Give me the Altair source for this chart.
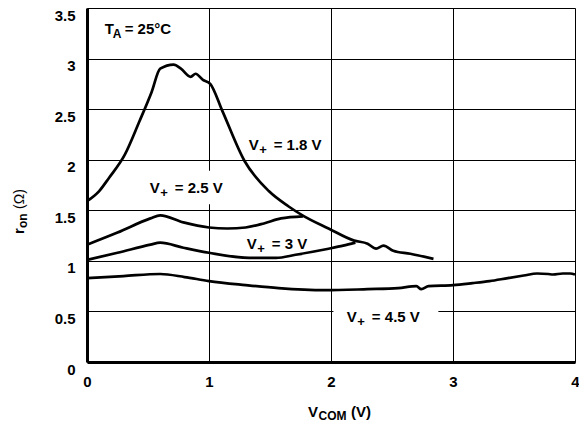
import altair as alt
import pandas as pd

# ---- data ----
x_18 = [0.00, 0.10, 0.18, 0.31, 0.43, 0.53, 0.60, 0.71, 0.77, 0.85, 0.89, 0.95, 1.01,
        1.11, 1.29, 1.49, 1.65, 1.78, 1.98, 2.19, 2.30, 2.37, 2.43, 2.51, 2.65, 2.84]
y_18 = [1.59, 1.69, 1.82, 2.05, 2.38, 2.67, 2.90, 2.94, 2.90, 2.82, 2.85, 2.79, 2.75,
        2.48, 1.99, 1.69, 1.54, 1.44, 1.32, 1.20, 1.17, 1.12, 1.15, 1.10, 1.07, 1.02]

x_25 = [0.00, 0.25, 0.52, 0.60, 0.79, 1.00, 1.15, 1.30, 1.45, 1.59, 1.77]
y_25 = [1.16, 1.28, 1.42, 1.45, 1.38, 1.33, 1.32, 1.33, 1.37, 1.42, 1.44]

x_3 = [0.00, 0.25, 0.52, 0.60, 0.79, 1.00, 1.33, 1.55, 1.71, 1.85, 1.98, 2.10, 2.20]
y_3 = [1.01, 1.08, 1.16, 1.18, 1.13, 1.08, 1.03, 1.03, 1.06, 1.09, 1.12, 1.15, 1.18]

x_45 = [0.00, 0.30, 0.60, 0.80, 1.00, 1.30, 1.57, 1.95, 2.30, 2.55, 2.70, 2.74, 2.80,
        3.00, 3.16, 3.30, 3.45, 3.58, 3.69, 3.78, 3.82, 3.90, 3.96, 4.00]
y_45 = [0.83, 0.85, 0.87, 0.84, 0.80, 0.76, 0.73, 0.71, 0.72, 0.73, 0.75, 0.72, 0.75,
        0.76, 0.78, 0.80, 0.83, 0.855, 0.875, 0.87, 0.865, 0.875, 0.875, 0.865]

series_names = ["1.8 V", "2.5 V", "3 V", "4.5 V"]
series_x = [x_18, x_25, x_3, x_45]
series_y = [y_18, y_25, y_3, y_45]

x_ticks = [0, 1, 2, 3, 4]
y_ticks = [0, 0.5, 1, 1.5, 2, 2.5, 3, 3.5]

# curve labels (anchor in data units)
label_rest = ["= 1.8 V", "= 2.5 V", "= 3 V", "= 4.5 V"]
label_x = [1.325, 0.514, 1.31, 2.13]
label_y = [2.15, 1.72, 1.17, 0.44]

# white boxes behind two labels (they interrupt the grid)
box_x = [0.47, 2.02]
box_x2 = [1.16, 2.88]
box_y = [1.56, 0.31]
box_y2 = [1.89, 0.61]

rows = []
for name, xs_, ys_ in zip(series_names, series_x, series_y):
    for i, (a, b) in enumerate(zip(xs_, ys_)):
        rows.append({"series": name, "order": i, "vcom": a, "ron": b})
df = pd.DataFrame(rows)

lab = pd.DataFrame({"vcom": label_x, "ron": label_y, "main": "V", "sub": "+", "rest": label_rest})
boxes = pd.DataFrame({"vcom": box_x, "vcom2": box_x2, "ron": box_y, "ron2": box_y2})
ta = pd.DataFrame({"vcom": [0.145], "ron": [3.29]})
dummy = pd.DataFrame({"a": [0]})

FONT = "Liberation Sans"

xs = alt.Scale(domain=[0, 4], nice=False)
ys = alt.Scale(domain=[0, 3.5], nice=False)

X = alt.X("vcom:Q", scale=xs, axis=alt.Axis(
    values=x_ticks, format="d", title=None, grid=True, ticks=False, labelPadding=12,
    labelFont=FONT, labelFontSize=15, labelFontWeight="bold", labelColor="black",
    domainColor="black", domainWidth=3, gridColor="black", gridWidth=1, gridOpacity=1,
    labelFlush=False))
Y = alt.Y("ron:Q", scale=ys, axis=alt.Axis(
    values=y_ticks, format=".1~f", title=None, grid=True, ticks=False, labelPadding=12,
    labelFont=FONT, labelFontSize=15, labelFontWeight="bold", labelColor="black",
    labelBaseline="top", labelFlush=False,
    domainColor="black", domainWidth=3, gridColor="black", gridWidth=1, gridOpacity=1))

lines = alt.Chart(df).mark_line(color="black", strokeWidth=2.7, interpolate="monotone").encode(
    x=X, y=Y, detail="series:N", order="order:Q")

rects = alt.Chart(boxes).mark_rect(color="white").encode(
    x="vcom:Q", x2="vcom2:Q", y="ron:Q", y2="ron2:Q")

base_txt = dict(font=FONT, fontWeight="bold", color="black", align="left", baseline="alphabetic")
lab_main = alt.Chart(lab).mark_text(fontSize=15, dy=5, **base_txt).encode(
    x="vcom:Q", y="ron:Q", text="main:N")
lab_sub = alt.Chart(lab).mark_text(fontSize=13, dx=10.5, dy=9, **base_txt).encode(
    x="vcom:Q", y="ron:Q", text="sub:N")
lab_rest = alt.Chart(lab).mark_text(fontSize=15, dx=25, dy=5, **base_txt).encode(
    x="vcom:Q", y="ron:Q", text="rest:N")

ta_main = alt.Chart(ta).mark_text(fontSize=15, dy=5, **base_txt).encode(
    x="vcom:Q", y="ron:Q", text=alt.value("T"))
ta_sub = alt.Chart(ta).mark_text(fontSize=12, dx=8, dy=9, **base_txt).encode(
    x="vcom:Q", y="ron:Q", text=alt.value("A"))
ta_rest = alt.Chart(ta).mark_text(fontSize=15, dx=20, dy=5, **base_txt).encode(
    x="vcom:Q", y="ron:Q", text=alt.value("= 25°C"))

# axis titles drawn as text (with subscripts)
XT_X, XT_Y = 221, 409
xt_main = alt.Chart(dummy).mark_text(fontSize=15, **base_txt).encode(
    x=alt.value(XT_X), y=alt.value(XT_Y), text=alt.value("V"))
xt_sub = alt.Chart(dummy).mark_text(fontSize=12, dx=10.5, dy=3, **base_txt).encode(
    x=alt.value(XT_X), y=alt.value(XT_Y), text=alt.value("COM"))
xt_rest = alt.Chart(dummy).mark_text(fontSize=15, dx=43, **base_txt).encode(
    x=alt.value(XT_X), y=alt.value(XT_Y), text=alt.value("(V)"))

YT_X, YT_Y = -63, 226
yt_main = alt.Chart(dummy).mark_text(fontSize=15, angle=270, **base_txt).encode(
    x=alt.value(YT_X), y=alt.value(YT_Y), text=alt.value("r"))
yt_sub = alt.Chart(dummy).mark_text(fontSize=12, angle=270, dx=6, dy=3, **base_txt).encode(
    x=alt.value(YT_X), y=alt.value(YT_Y), text=alt.value("on"))
yt_rest = alt.Chart(dummy).mark_text(fontSize=14, angle=270, dx=25, font=FONT, color="black",
                                      align="left", baseline="alphabetic").encode(
    x=alt.value(YT_X), y=alt.value(YT_Y), text=alt.value("(Ω)"))

chart = alt.layer(
    rects, lines, lab_main, lab_sub, lab_rest, ta_main, ta_sub, ta_rest,
    xt_main, xt_sub, xt_rest, yt_main, yt_sub, yt_rest
).properties(
    width=488, height=354,
    autosize=alt.AutoSizeParams(type="none"),
    padding={"left": 79, "top": 0, "right": 4, "bottom": 62},
).configure_view(stroke="black", strokeWidth=2).configure(background="white")

chart.save("out.html", embed_options={"renderer": "svg", "actions": False})
